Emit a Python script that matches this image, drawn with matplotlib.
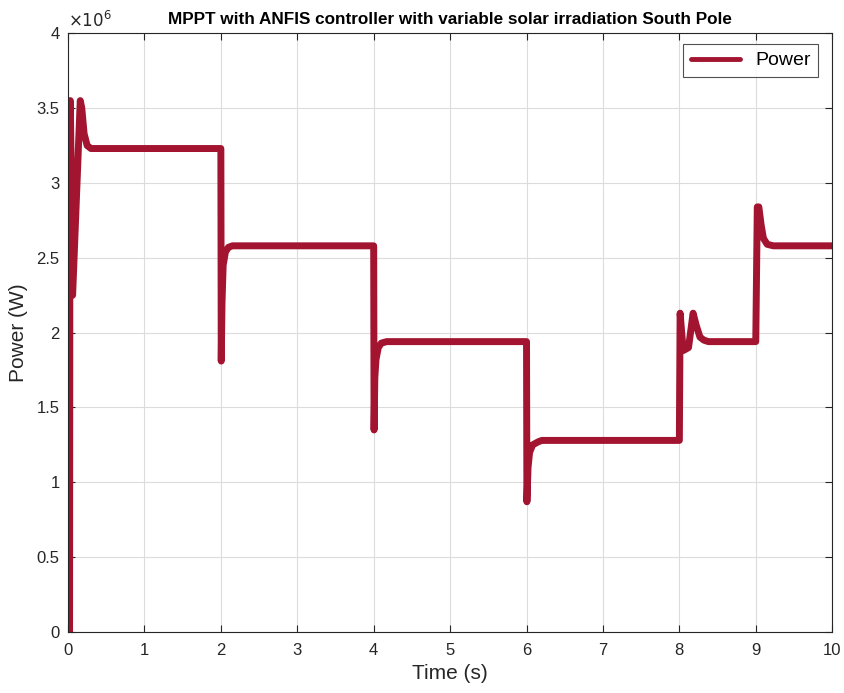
import matplotlib.pyplot as plt
from matplotlib.ticker import FuncFormatter

# time (s) and power (x1e6 W)
time = [0, 0.02, 0.025, 0.03, 0.06, 0.16, 0.18, 0.21, 0.25, 0.3, 0.4,
        2.0, 2.005, 2.015, 2.03, 2.06, 2.1, 2.15,
        4.0, 4.005, 4.015, 4.03, 4.06, 4.1, 4.17,
        6.0, 6.005, 6.02, 6.04, 6.08, 6.15, 6.2,
        8.0, 8.01, 8.05, 8.12, 8.18, 8.22, 8.27, 8.32, 8.38,
        9.0, 9.02, 9.04, 9.07, 9.1, 9.15, 9.23,
        10.0]
power = [0, 0, 3.55, 3.55, 2.25, 3.55, 3.5, 3.33, 3.25, 3.23, 3.23,
         3.23, 1.81, 2.2, 2.45, 2.54, 2.57, 2.58,
         2.58, 1.35, 1.7, 1.82, 1.9, 1.93, 1.94,
         1.94, 0.87, 1.1, 1.2, 1.25, 1.27, 1.28,
         1.28, 2.13, 1.88, 1.9, 2.13, 2.05, 1.97, 1.95, 1.94,
         1.94, 2.84, 2.84, 2.72, 2.63, 2.59, 2.58,
         2.58]
scale = 1e6

xticks = list(range(0, 11))
yticks = [0, 0.5, 1, 1.5, 2, 2.5, 3, 3.5, 4]

plt.rcParams['font.family'] = ['Liberation Sans', 'DejaVu Sans']
axcol = '#262626'

fig = plt.figure(figsize=(8.44, 6.93), dpi=100)
ax = fig.add_axes([0.0806, 0.088, 0.9054, 0.864])

ax.plot(time, [p * scale for p in power], color='#A2142F', lw=5,
        solid_joinstyle='round', solid_capstyle='round', label='Power')

ax.set_xlim(0, 10)
ax.set_ylim(0, 4 * scale)
ax.set_xticks(xticks)
ax.set_yticks([v * scale for v in yticks])
ax.yaxis.set_major_formatter(FuncFormatter(lambda v, p: '%g' % (v / scale)))

ax.grid(True, color='#dcdcdc', lw=0.8)
ax.set_axisbelow(True)
ax.tick_params(direction='in', top=True, right=True, labelsize=12,
               colors=axcol, length=5)
ax.tick_params(axis='x', pad=8)
ax.tick_params(axis='y', pad=6)
for s in ax.spines.values():
    s.set_color(axcol)
    s.set_linewidth(0.8)

ax.text(0.0, 1.005, r'$\times10^{6}$', transform=ax.transAxes,
        fontsize=12, color=axcol, ha='left', va='bottom')
ax.set_title('MPPT with ANFIS controller with variable solar irradiation South Pole',
             fontsize=12.3, fontweight='bold', pad=7)
ax.set_xlabel('Time (s)', fontsize=15, color=axcol, labelpad=4)
ax.set_ylabel('Power (W)', fontsize=15, color=axcol, labelpad=6)

leg = ax.legend(loc='upper right', fontsize=14, fancybox=False,
                handlelength=2.5, borderaxespad=0,
                bbox_to_anchor=(0.982, 0.982))
leg.get_frame().set_edgecolor(axcol)
leg.get_frame().set_linewidth(0.8)
leg.get_lines()[0].set_linewidth(3.5)

fig.savefig('out.png', dpi=100)
